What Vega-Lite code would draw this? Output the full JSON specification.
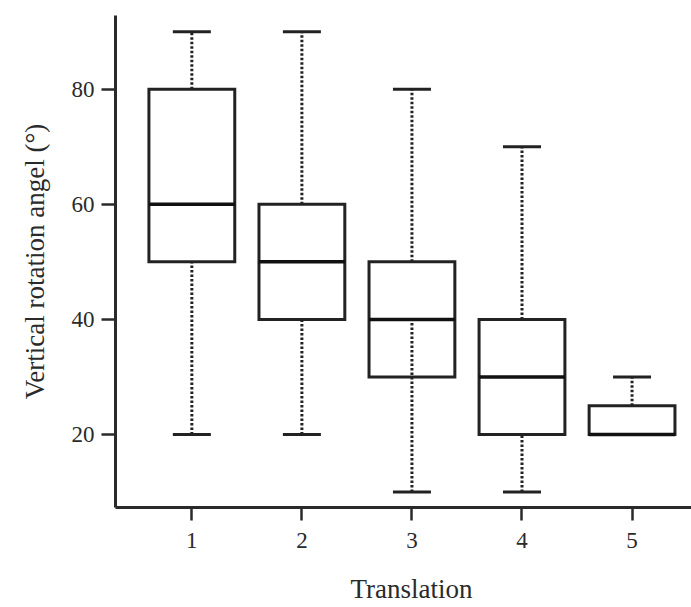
{
  "$schema": "https://vega.github.io/schema/vega-lite/v6.json",
  "width": 576,
  "height": 492,
  "autosize": {"type": "none"},
  "padding": {"left": 115, "top": 15, "right": 0, "bottom": 100},
  "background": "white",
  "config": {
    "view": {"stroke": null},
    "font": "Liberation Serif",
    "axis": {
      "grid": false,
      "domainColor": "#2a2a2a",
      "domainWidth": 3,
      "tickColor": "#2a2a2a",
      "tickWidth": 2.5,
      "tickSize": 13,
      "labelFont": "Liberation Serif",
      "labelFontSize": 23,
      "labelColor": "#2a2a2a",
      "titleFont": "Liberation Serif",
      "titleFontSize": 27,
      "titleFontWeight": "normal",
      "titleColor": "#2a2a2a"
    }
  },
  "data": {
    "values": [
      {"t": "1", "min": 20, "q1": 50, "median": 60, "q3": 80, "max": 90, "lowStart": 50},
      {"t": "2", "min": 20, "q1": 40, "median": 50, "q3": 60, "max": 90, "lowStart": 40},
      {"t": "3", "min": 10, "q1": 30, "median": 40, "q3": 50, "max": 80, "lowStart": 40},
      {"t": "4", "min": 10, "q1": 20, "median": 30, "q3": 40, "max": 70, "lowStart": 20},
      {"t": "5", "min": 20, "q1": 20, "median": 20, "q3": 25, "max": 30, "lowStart": 20}
    ]
  },
  "encoding": {
    "x": {
      "field": "t",
      "type": "ordinal",
      "scale": {"paddingInner": 0.22, "paddingOuter": 0.227, "align": 0.679, "round": false},
      "axis": {
        "title": "Translation",
        "labelAngle": 0,
        "labelPadding": 9,
        "titleX": 296,
        "titleY": 90,
        "titleBaseline": "alphabetic",
        "titleAnchor": null,
        "titleAlign": "center"
      }
    }
  },
  "layer": [
    {
      "mark": {"type": "bar", "fill": "white", "stroke": "#222", "strokeWidth": 3},
      "encoding": {
        "y": {
          "field": "q1",
          "type": "quantitative",
          "scale": {"domain": [7.4, 92.9], "nice": false, "zero": false},
          "axis": {
            "title": "Vertical rotation angel (°)",
            "values": [20, 40, 60, 80],
            "tickSize": 14,
            "labelPadding": 7,
            "titleX": -72,
            "titleY": 246,
            "titleAngle": -90,
            "titleBaseline": "alphabetic",
            "titleAlign": "center",
            "titleAnchor": null
          }
        },
        "y2": {"field": "q3"}
      }
    },
    {
      "mark": {"type": "rule", "stroke": "#222", "strokeWidth": 3, "strokeDash": [2.5, 2]},
      "encoding": {
        "y": {"field": "q3", "type": "quantitative"},
        "y2": {"field": "max"}
      }
    },
    {
      "mark": {"type": "rule", "stroke": "#222", "strokeWidth": 3, "strokeDash": [2.5, 2]},
      "encoding": {
        "y": {"field": "min", "type": "quantitative"},
        "y2": {"field": "lowStart"}
      }
    },
    {
      "mark": {"type": "tick", "color": "#222", "thickness": 3, "size": 38, "opacity": 1},
      "encoding": {"y": {"field": "max", "type": "quantitative"}}
    },
    {
      "mark": {"type": "tick", "color": "#222", "thickness": 3, "size": 38, "opacity": 1},
      "encoding": {"y": {"field": "min", "type": "quantitative"}}
    },
    {
      "mark": {"type": "tick", "color": "#111", "thickness": 3.5, "size": 86, "opacity": 1},
      "encoding": {"y": {"field": "median", "type": "quantitative"}}
    }
  ]
}
